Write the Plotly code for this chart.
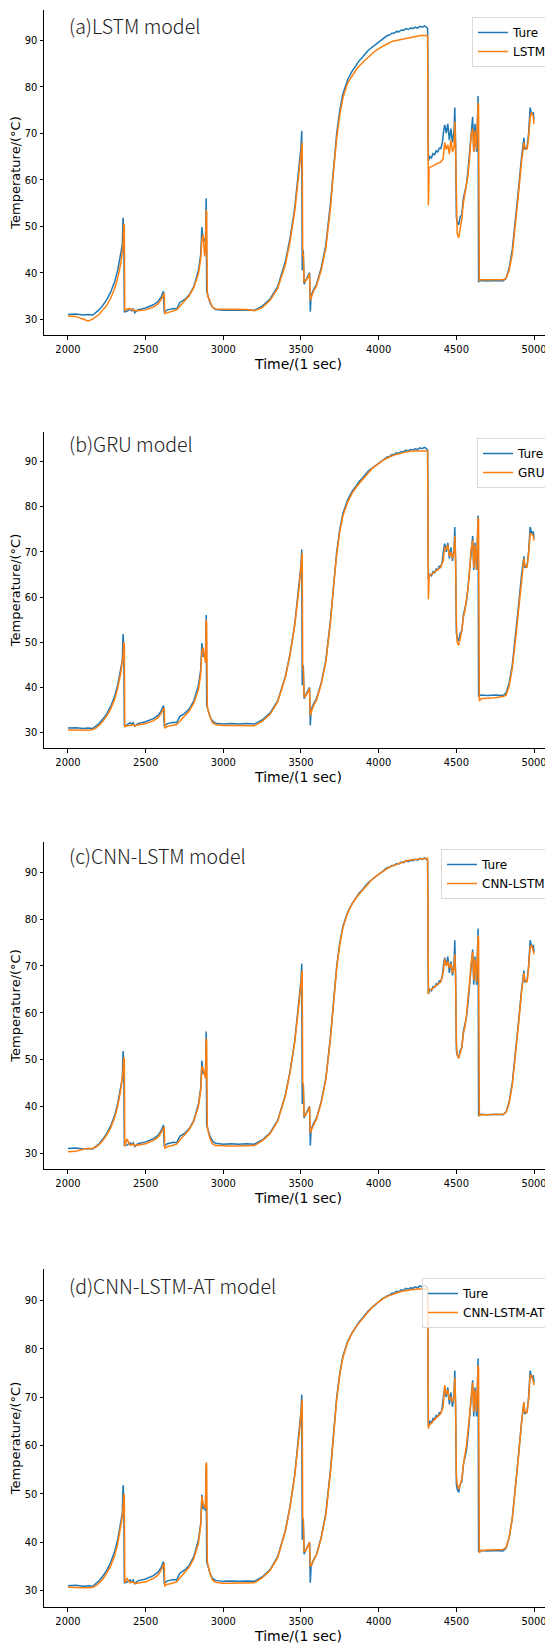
import plotly.graph_objects as go

# measured "Ture" curve (own time axis, denser where the signal is noisy)
t_true = [2000, 2050, 2100, 2130, 2160, 2180, 2200, 2225, 2250, 2275, 2300, 2320, 2340, 2350, 2355, 2360, 2363, 2366,
          2380, 2400, 2410, 2420, 2430, 2450, 2500, 2550, 2580, 2600, 2615, 2620, 2623, 2640, 2660, 2680, 2700, 2720,
          2750, 2780, 2810, 2840, 2855, 2862, 2870, 2880, 2885, 2890, 2893, 2897, 2900, 2915, 2930, 2950, 3000, 3050,
          3100, 3150, 3200, 3250, 3300, 3350, 3400, 3430, 3460, 3490, 3500, 3505, 3508, 3511, 3515, 3520, 3530, 3545,
          3555, 3560, 3565, 3580, 3600, 3630, 3660, 3690, 3710, 3730, 3750, 3770, 3800, 3815, 3830, 3845, 3860, 3875,
          3890, 3905, 3920, 3935, 3950, 3965, 3980, 3995, 4010, 4025, 4040, 4055, 4070, 4085, 4100, 4115, 4130, 4145,
          4160, 4175, 4190, 4205, 4220, 4235, 4250, 4265, 4280, 4295, 4305, 4315, 4320, 4330, 4340, 4350, 4360, 4370,
          4380, 4390, 4400, 4410, 4418, 4425, 4435, 4445, 4455, 4465, 4475, 4485, 4490, 4495, 4500, 4505, 4515, 4525,
          4535, 4545, 4555, 4565, 4575, 4585, 4595, 4605, 4612, 4620, 4630, 4640, 4643, 4648, 4660, 4700, 4750, 4800,
          4820, 4840, 4860, 4880, 4900, 4920, 4935, 4940, 4955, 4965, 4975, 4985, 4995, 5000]
ture = [31.0, 31.1, 30.9, 31.0, 30.9, 31.4, 32.0, 33.0, 34.2, 35.8, 38.0, 40.5, 44.0, 46.0, 51.8, 48.5, 31.5, 31.6,
        31.7, 32.2, 31.8, 32.2, 31.4, 32.0, 32.4, 33.1, 33.8, 34.8, 36.0, 31.4, 31.6, 32.0, 32.1, 32.3, 32.2, 33.6,
        34.2, 35.2, 37.0, 40.5, 44.0, 49.8, 47.0, 47.2, 46.5, 56.0, 36.0, 35.5, 35.3, 33.5, 32.6, 32.1, 31.9, 32.0,
        31.9, 32.0, 31.9, 32.8, 34.3, 37.0, 42.5, 47.5, 54.0, 63.0, 67.0, 70.5, 40.5, 45.0, 44.5, 37.5, 38.3, 39.2,
        40.0, 31.6, 35.0, 36.3, 37.5, 41.0, 46.0, 55.0, 63.0, 70.0, 75.0, 78.5, 81.5, 82.5, 83.4, 84.1, 84.9, 85.6,
        86.1, 86.8, 87.3, 87.9, 88.3, 88.8, 89.1, 89.6, 89.9, 90.4, 90.6, 91.0, 91.1, 91.5, 91.5, 91.9, 91.8, 92.2,
        92.1, 92.5, 92.3, 92.6, 92.5, 92.8, 92.6, 93.0, 92.8, 93.1, 92.9, 92.5, 64.0, 65.0, 64.7, 65.6, 65.4, 66.2,
        66.0, 66.8, 66.7, 68.0, 70.5, 71.8, 70.0, 72.0, 68.5, 71.0, 68.0, 70.5, 75.5, 68.0, 52.0, 51.0, 50.3, 52.0,
        52.5, 56.0, 57.5, 59.0, 62.0, 66.5, 71.0, 73.5, 66.0, 72.0, 66.0, 78.0, 38.0, 38.2, 38.3, 38.2, 38.3, 38.2,
        38.8, 41.0, 45.0, 51.0, 58.0, 65.0, 69.0, 66.5, 67.0, 70.0, 75.5, 74.0, 74.5, 73.0]

# model predictions share one time axis
t = [2000, 2050, 2100, 2130, 2160, 2180, 2200, 2225, 2250, 2275, 2300, 2320, 2340, 2350, 2355, 2360, 2363, 2366, 2380,
     2400, 2410, 2420, 2430, 2450, 2500, 2550, 2580, 2600, 2615, 2620, 2623, 2640, 2660, 2680, 2700, 2720, 2750, 2780,
     2810, 2840, 2855, 2862, 2870, 2880, 2885, 2890, 2893, 2897, 2900, 2915, 2930, 2950, 3000, 3050, 3100, 3150, 3200,
     3250, 3300, 3350, 3400, 3430, 3460, 3490, 3500, 3505, 3508, 3511, 3515, 3520, 3530, 3545, 3555, 3560, 3565, 3580,
     3600, 3630, 3660, 3690, 3710, 3730, 3750, 3770, 3800, 3830, 3860, 3900, 3930, 3960, 4000, 4030, 4060, 4090, 4120,
     4150, 4180, 4210, 4240, 4270, 4300, 4315, 4320, 4325, 4340, 4360, 4380, 4400, 4415, 4425, 4435, 4445, 4455, 4465,
     4475, 4485, 4490, 4495, 4500, 4505, 4515, 4525, 4535, 4545, 4555, 4565, 4575, 4585, 4595, 4605, 4612, 4620, 4630,
     4640, 4643, 4648, 4660, 4700, 4750, 4800, 4820, 4840, 4860, 4880, 4900, 4920, 4935, 4940, 4955, 4965, 4975, 4985,
     4995, 5000]

lstm = [30.7, 30.6, 30.0, 29.6, 30.0, 30.5, 31.0, 32.0, 33.0, 34.5, 36.5, 38.8, 42.0, 44.5, 46.0, 50.5, 50.0, 31.8, 32.2,
        32.3, 32.0, 32.1, 31.8, 31.8, 32.0, 32.6, 33.3, 34.2, 35.3, 35.5, 31.2, 31.4, 31.5, 31.7, 32.0, 32.8, 33.8, 35.0,
        36.8, 39.8, 43.0, 47.0, 48.2, 43.5, 45.0, 53.5, 53.0, 36.0, 35.0, 33.8, 32.6, 32.2, 32.2, 32.2, 32.2, 32.1, 31.8,
        32.5, 34.0, 36.6, 41.8, 46.8, 53.3, 62.3, 66.5, 67.8, 68.0, 43.5, 44.0, 38.0, 38.2, 39.0, 39.8, 34.0, 34.5, 36.0,
        37.2, 40.5, 45.3, 54.0, 62.0, 69.0, 74.0, 77.6, 80.8, 82.5, 83.9, 85.3, 86.3, 87.2, 88.2, 88.8, 89.3, 89.8, 90.0,
        90.3, 90.5, 90.7, 90.9, 91.0, 91.0, 91.0, 54.5, 62.6, 62.8, 63.2, 63.5, 63.8, 64.5, 68.0, 66.5, 67.5, 65.5, 68.5,
        66.0, 67.0, 72.5, 67.0, 55.0, 48.5, 47.5, 49.5, 51.5, 55.0, 57.0, 59.0, 61.0, 64.5, 69.5, 71.0, 66.0, 70.5, 66.5,
        76.5, 76.0, 38.3, 38.5, 38.5, 38.5, 38.5, 38.8, 40.5, 44.0, 50.0, 57.0, 64.0, 68.0, 67.0, 66.5, 69.0, 73.5, 74.5,
        73.5, 72.0]

gru = [30.6, 30.5, 30.4, 30.5, 30.7, 31.0, 31.6, 32.5, 33.7, 35.2, 37.3, 39.8, 43.2, 45.2, 47.0, 50.0, 49.5, 31.3, 31.5,
       31.6, 31.7, 31.8, 31.5, 31.7, 32.0, 32.6, 33.3, 34.2, 35.3, 35.4, 31.0, 31.4, 31.5, 31.6, 31.8, 32.5, 33.5, 34.7,
       36.5, 39.5, 43.0, 48.0, 48.8, 46.0, 45.5, 55.0, 54.0, 36.0, 35.2, 33.5, 32.2, 31.8, 31.6, 31.6, 31.6, 31.6, 31.5,
       32.5, 34.0, 36.8, 42.3, 47.3, 53.8, 62.8, 67.0, 69.5, 69.8, 44.5, 44.0, 37.8, 38.1, 39.0, 39.8, 33.8, 34.5, 36.0,
       37.2, 40.7, 45.6, 54.5, 62.5, 69.5, 74.5, 78.0, 81.0, 83.0, 84.5, 86.0, 87.3, 88.5, 89.5, 90.3, 90.8, 91.3, 91.6,
       91.9, 92.1, 92.3, 92.3, 92.4, 92.4, 92.3, 59.5, 64.8, 65.0, 65.5, 66.0, 66.6, 68.0, 71.0, 70.5, 71.5, 69.0, 70.0,
       68.5, 70.0, 73.5, 68.5, 55.0, 50.0, 49.3, 51.0, 52.5, 55.5, 57.0, 59.5, 62.0, 66.0, 70.5, 72.5, 66.5, 71.5, 66.0,
       77.5, 77.0, 37.0, 37.5, 37.6, 37.7, 38.0, 38.3, 40.3, 44.2, 50.3, 57.3, 64.3, 68.5, 67.0, 66.5, 69.5, 74.0, 74.0,
       73.5, 72.5]

cnn_lstm = [30.3, 30.4, 30.8, 31.0, 31.0, 31.3, 31.8, 32.7, 33.9, 35.4, 37.5, 40.0, 43.5, 45.6, 47.5, 50.5, 50.0, 31.5,
            33.0, 31.7, 31.8, 31.9, 31.6, 31.7, 32.0, 32.7, 33.4, 34.4, 35.5, 35.6, 31.0, 31.4, 31.5, 31.7, 31.9, 32.8,
            33.8, 35.0, 36.8, 40.0, 43.5, 48.5, 48.0, 46.5, 46.0, 54.5, 54.0, 36.0, 35.0, 33.0, 32.0, 31.6, 31.5, 31.5,
            31.5, 31.5, 31.6, 32.6, 34.1, 36.8, 42.3, 47.3, 53.8, 62.8, 67.0, 69.0, 69.0, 45.0, 44.5, 37.8, 38.2, 39.0,
            39.9, 34.3, 34.8, 36.0, 37.3, 40.7, 45.7, 54.6, 62.6, 69.6, 74.6, 78.2, 81.3, 83.3, 84.8, 86.4, 87.6, 88.6,
            89.6, 90.3, 90.9, 91.4, 91.8, 92.2, 92.5, 92.7, 92.8, 93.0, 93.0, 93.0, 64.0, 64.8, 65.0, 65.5, 66.0, 66.6,
            68.5, 71.5, 70.0, 71.0, 69.5, 70.5, 68.5, 69.5, 72.5, 68.0, 54.0, 51.0, 50.3, 51.5, 52.5, 55.5, 57.0, 59.5,
            62.5, 66.5, 70.5, 73.0, 67.0, 71.5, 66.5, 76.5, 76.0, 38.0, 38.2, 38.2, 38.2, 38.3, 38.7, 40.7, 44.5, 50.5,
            57.5, 64.5, 68.5, 67.0, 66.5, 69.5, 74.0, 74.5, 73.5, 72.5]

cnn_lstm_at = [30.7, 30.6, 30.6, 30.6, 30.7, 31.0, 31.5, 32.4, 33.6, 35.1, 37.2, 39.6, 43.0, 45.3, 47.0, 50.0, 49.5, 31.6,
               32.5, 31.6, 31.7, 31.8, 31.4, 31.5, 31.8, 32.5, 33.2, 34.2, 35.4, 35.6, 31.0, 31.3, 31.4, 31.6, 31.8,
               32.6, 33.6, 34.8, 36.6, 39.8, 43.5, 49.5, 48.0, 47.5, 47.0, 56.5, 56.0, 36.2, 35.5, 33.5, 32.2, 31.7,
               31.5, 31.5, 31.5, 31.5, 31.6, 32.6, 34.1, 36.8, 42.3, 47.3, 53.8, 62.8, 67.0, 69.5, 69.5, 45.0, 44.5,
               38.0, 38.3, 39.2, 40.0, 35.0, 35.2, 36.2, 37.4, 40.8, 45.7, 54.6, 62.6, 69.6, 74.6, 78.2, 81.3, 83.3,
               84.8, 86.4, 87.6, 88.7, 89.7, 90.4, 90.9, 91.3, 91.6, 91.9, 92.1, 92.2, 92.3, 92.4, 92.4, 92.3, 63.5,
               64.2, 64.6, 65.4, 66.0, 66.6, 68.0, 72.5, 70.5, 71.5, 69.5, 70.0, 69.0, 70.0, 74.0, 69.0, 54.0, 52.0,
               51.0, 52.0, 53.0, 56.0, 58.0, 60.0, 63.0, 66.5, 71.0, 73.0, 67.0, 71.5, 67.0, 76.5, 76.0, 37.8, 38.3,
               38.4, 38.4, 38.5, 38.9, 41.0, 44.8, 50.8, 57.8, 64.8, 69.0, 67.0, 66.8, 69.5, 74.5, 74.5, 73.5, 72.5]

panels = [
    ("(a)LSTM model", "LSTM", lstm),
    ("(b)GRU model", "GRU", gru),
    ("(c)CNN-LSTM model", "CNN-LSTM", cnn_lstm),
    ("(d)CNN-LSTM-AT model", "CNN-LSTM-AT", cnn_lstm_at),
]

# the page body adds an 8px margin, so the figure is 8px smaller and all
# reference pixel positions below are shifted by OFF
OFF = 8
W, H = 553 - OFF, 1645 - OFF
L = 44 - OFF
boxes = [(10, 335), (432, 748), (842, 1169), (1269, 1607)]   # top / bottom of each axes, reference px
title_y = [25, 443, 855, 1285]
legend_top = [17, 438, 849, 1278]

tick_font = dict(family="DejaVu Sans Condensed, DejaVu Sans", size=11, color="black")
fig = go.Figure()
layout = {}

for i, (title, name, pred) in enumerate(panels):
    n = "" if i == 0 else str(i + 1)
    leg = "legend" + n
    fig.add_trace(go.Scatter(x=t_true, y=ture, mode="lines", name="Ture",
                             line=dict(color="#1f77b4", width=1.5),
                             xaxis="x" + n, yaxis="y" + n, legend=leg))
    fig.add_trace(go.Scatter(x=t, y=pred, mode="lines", name=name,
                             line=dict(color="#ff7f0e", width=1.5),
                             xaxis="x" + n, yaxis="y" + n, legend=leg))
    top, bot = boxes[i]
    layout["xaxis" + n] = dict(
        domain=[0, 1], anchor="y" + n, range=[1846, 5122],
        tickvals=[2000, 2500, 3000, 3500, 4000, 4500, 5000],
        ticks="outside", ticklen=3.5, tickcolor="black", tickfont=tick_font,
        showline=True, linecolor="black", linewidth=1, showgrid=False, zeroline=False,
        title=dict(text="Time/(1 sec)", standoff=3,
                   font=dict(family="DejaVu Sans", size=14, color="black")),
        automargin=False,
    )
    layout["yaxis" + n] = dict(
        domain=[1 - (bot - OFF) / H, 1 - (top - OFF) / H], anchor="x" + n, range=[26.6, 96.5],
        tickvals=[30, 40, 50, 60, 70, 80, 90],
        ticks="outside", ticklen=3.5, tickcolor="black", tickfont=tick_font,
        showline=True, linecolor="black", linewidth=1, showgrid=False, zeroline=False,
        title=dict(text="Temperature/(°C)", standoff=4,
                   font=dict(family="DejaVu Sans", size=13, color="black")),
        automargin=False,
    )
    layout[leg] = dict(
        x=(551 - OFF - L) / (W - L), xanchor="right", y=1 - (legend_top[i] - OFF) / H, yanchor="top",
        bgcolor="rgba(255,255,255,0.8)", bordercolor="#d9d9d9", borderwidth=1,
        font=dict(family="DejaVu Sans", size=12, color="black"),
        tracegroupgap=2,
    )
    fig.add_annotation(text=title, xref="paper", yref="paper",
                       x=(67 - OFF - L) / (W - L), y=1 - (title_y[i] - OFF) / H,
                       xanchor="left", yanchor="middle", showarrow=False,
                       font=dict(family="Noto Sans CJK SC", size=19.5, color="#222222", weight=300))

fig.update_layout(**layout)
fig.update_layout(
    width=W, height=H,
    margin=dict(l=L, r=0, t=0, b=0),
    plot_bgcolor="white", paper_bgcolor="white",
)

fig.write_html("out.html")
